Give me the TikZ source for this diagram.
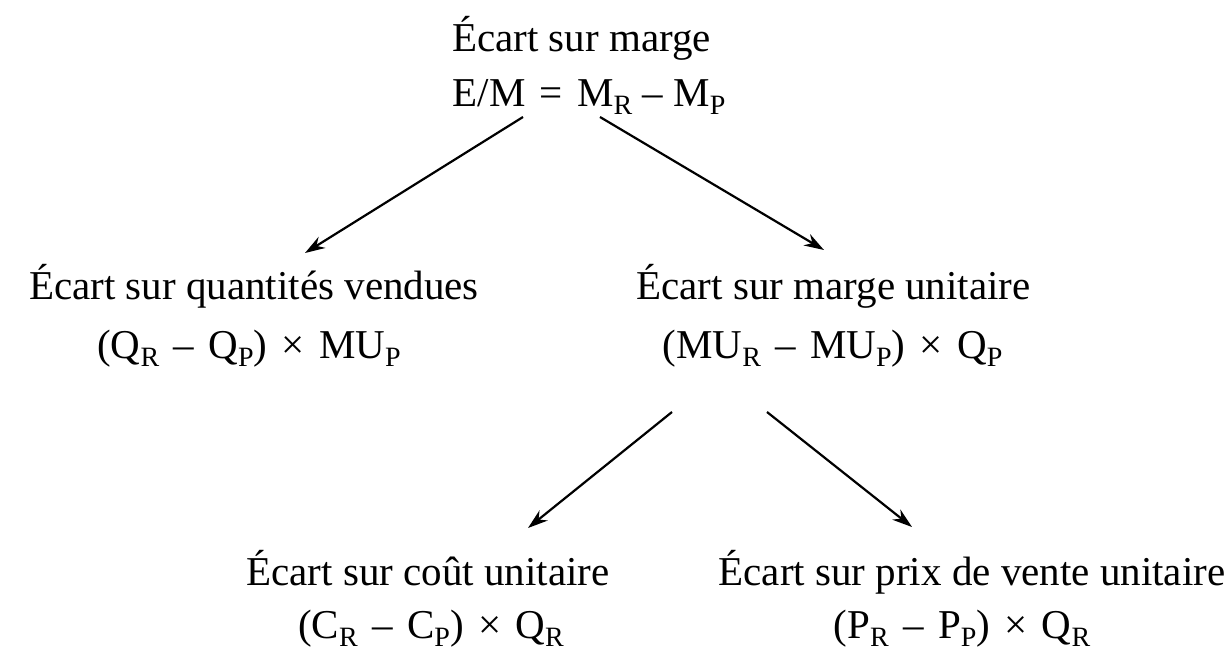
\documentclass[tikz,border=0pt]{standalone}
\usepackage{fontspec}
\setmainfont{Liberation Serif}
\usetikzlibrary{arrows.meta,calc}
\newcommand\sbs[1]{\raisebox{-0.45ex}{\fontsize{14}{14}\selectfont #1}}
\newcommand\op[1]{\hspace{0.35em}#1\hspace{0.35em}}
\begin{document}
\begin{tikzpicture}[x=0.5pt,y=-0.5pt,
  lbl/.style={anchor=base,inner sep=0pt,font=\fontsize{20.5}{23}\selectfont},
  arr/.style={line width=1.1pt,-{Stealth[length=10pt,width=6.5pt]}}]
\useasboundingbox (0,0) rectangle (1227,653);
\node[lbl] (t1) at (581.5,51) {Écart sur marge};
\node[lbl] (t2) at (589,106) {E/M\op{=}M\sbs{R} – M\sbs{P}};
\node[lbl] (l1) at (254,299) {Écart sur quantités vendues};
\node[lbl] (l2) at (249,358) {(Q\sbs{R}\op{–}Q\sbs{P})\op{×}MU\sbs{P}};
\node[lbl] (r1) at (833.5,299) {Écart sur marge unitaire};
\node[lbl] (r2) at (832.5,358) {(MU\sbs{R}\op{–}MU\sbs{P})\op{×}Q\sbs{P}};
\node[lbl] (b1) at (428,585) {Écart sur coût unitaire};
\node[lbl] (b2) at (431,638) {(C\sbs{R}\op{–}C\sbs{P})\op{×}Q\sbs{R}};
\node[lbl] (c1) at (972,585) {Écart sur prix de vente unitaire};
\node[lbl] (c2) at (962,638) {(P\sbs{R}\op{–}P\sbs{P})\op{×}Q\sbs{R}};
\draw[arr] ($(t2.base)+(-66,11)$) -- ($(l1.base)+(51,-46)$);
\draw[arr] ($(t2.base)+(11,11)$) -- ($(r1.base)+(-9.5,-49)$);
\draw[arr] ($(r2.base)+(-160.5,54)$) -- ($(b1.base)+(100,-57)$);
\draw[arr] ($(r2.base)+(-65.5,54)$) -- ($(c1.base)+(-60,-58)$);
\end{tikzpicture}
\end{document}
